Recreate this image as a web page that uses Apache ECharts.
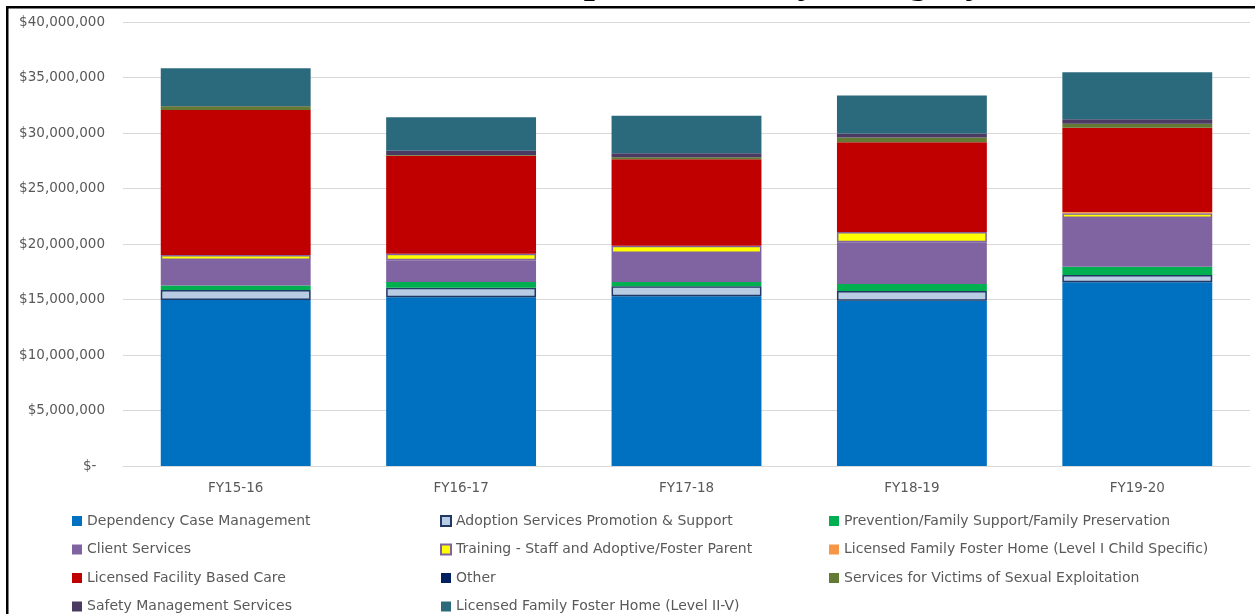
<!DOCTYPE html>
<html><head><meta charset="utf-8">
<script src="https://cdn.jsdelivr.net/npm/echarts@6/dist/echarts.min.js"></script>
<style>html,body{margin:0;padding:0;background:#fff}#c{width:1255px;height:614px}</style>
</head><body><div id="c"></div>
<script>
const categories = ['FY15-16','FY16-17','FY17-18','FY18-19','FY19-20'];
const seriesNames = [
  'Dependency Case Management',
  'Adoption Services Promotion & Support',
  'Prevention/Family Support/Family Preservation',
  'Client Services',
  'Training - Staff and Adoptive/Foster Parent',
  'Licensed Family Foster Home (Level I Child Specific)',
  'Licensed Facility Based Care',
  'Other',
  'Services for Victims of Sexual Exploitation',
  'Safety Management Services',
  'Licensed Family Foster Home (Level II-V)'
];
const dependencyCaseMgmt = [14950000, 15200000, 15290000, 14890000, 16550000];
const adoptionServices   = [  900000,   860000,   900000,   880000,   650000];
const prevention         = [  420000,   520000,   390000,   630000,   750000];
const clientServices     = [ 2280000,  1950000,  2610000,  3750000,  4390000];
const training           = [  470000,   600000,   660000,   930000,   420000];
const fosterLevelI       = [       0,        0,        0,        0,   120000];
const facilityCare       = [13050000,  8830000,  7780000,  8090000,  7600000];
const other              = [       0,        0,        0,        0,        0];
const victimsServices    = [  340000,    50000,   180000,   420000,   360000];
const safetyMgmt         = [   20000,   400000,   360000,   360000,   390000];
const fosterLevelIIV     = [ 3400000,  3000000,  3390000,  3420000,  4240000];

const seriesData = [dependencyCaseMgmt, adoptionServices, prevention, clientServices, training,
  fosterLevelI, facilityCare, other, victimsServices, safetyMgmt, fosterLevelIIV];
const colors = ['#0070C0','#B8CCE4','#00B050','#8064A2','#FFFF00','#F79646','#C00000','#002060','#637A35','#4B3B62','#2B6A7C'];
const borders = [null, {c:'#1F3864', w:1.5}, null, null, {c:'#8064A2', w:1.5}, null, null, null, null, null, null];

const series = seriesNames.map((n,i)=>({
  name:n, type:'bar', stack:'total', data:seriesData[i], barWidth:'66.5%',
  itemStyle: borders[i] ? {color:colors[i], borderColor:borders[i].c, borderWidth:borders[i].w}
                        : {color:colors[i], borderWidth:0},
  emphasis:{disabled:true}
}));

function fmt(v){ if(v===0) return '$-  '; return '$' + v.toLocaleString('en-US'); }

const legendFont = {fontFamily:'DejaVu Sans', fontSize:14, color:'#595959'};
const cols = [[0,3,6,9],[1,4,7,10],[2,5,8]];
const colLeft = [72, 440, 829];
const legends = cols.map((idx,k)=>({
  orient:'vertical', left:colLeft[k], top:514, padding:0, itemWidth:10, itemHeight:10, itemGap:14.5,
  textStyle:legendFont, icon:'rect', selectedMode:false,
  data: idx.map(i=>({name:seriesNames[i]}))
}));

const chart = echarts.init(document.getElementById('c'), null, {renderer:'canvas'});
chart.setOption({
  animation:false,
  grid:{left:123, right:5, top:22, bottom:148, containLabel:false},
  xAxis:{type:'category', data:categories,
    axisLine:{lineStyle:{color:'#D9D9D9', width:1}}, axisTick:{show:false},
    axisLabel:{color:'#595959', fontFamily:'DejaVu Sans', fontSize:13.5, margin:15}},
  yAxis:{type:'value', min:0, max:40000000, interval:5000000,
    axisLine:{show:false}, axisTick:{show:false},
    splitLine:{lineStyle:{color:'#D9D9D9', width:1}},
    axisLabel:{color:'#595959', fontFamily:'DejaVu Sans', fontSize:13.5, margin:18, formatter:fmt}},
  legend:legends,
  series:series,
  graphic:[
    {type:'text', x:537, y:-18, silent:true,
     style:{text:'Expenditures by Category', font:'bold 40px "Liberation Serif"', fill:'#000',
            align:'left', verticalAlign:'middle', textAlign:'left', textVerticalAlign:'middle'}},
    {type:'rect', shape:{x:6, y:6, width:1249, height:2.5}, style:{fill:'#000'}, silent:true},
    {type:'rect', shape:{x:6, y:6, width:2.5, height:608}, style:{fill:'#000'}, silent:true}
  ]
});
</script></body></html>
